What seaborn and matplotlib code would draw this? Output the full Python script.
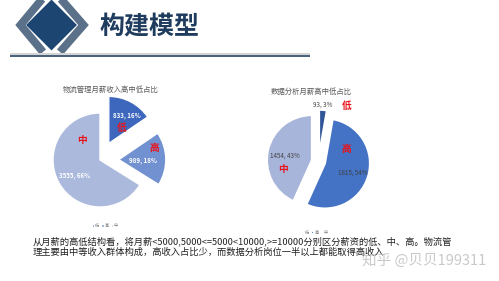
import matplotlib
matplotlib.use("Agg")
import matplotlib.pyplot as plt
import seaborn as sns
from matplotlib.patches import Polygon

# ---------------- data ----------------
categories = ['低', '高', '中']
title1 = '物流管理月薪收入高中低占比'
values1 = [833, 989, 3555]
pct1 = [16, 18, 66]
title2 = '数据分析月薪高中低占比'
values2 = [93, 1815, 1454]
pct2 = [3, 54, 43]
page_title = '构建模型'
para_lines = ['从月薪的高低结构看，将月薪<5000,5000<=5000<10000,>=10000分别区分薪资的低、中、高。物流管',
              '理主要由中等收入群体构成，高收入占比少，而数据分析岗位一半以上都能取得高收入']
watermark = '知乎 @贝贝199311'

# ---------------- style ----------------
sns.set_theme(style='white')
plt.rcParams['font.family'] = ['Noto Sans CJK SC', 'DejaVu Sans']

colors1 = ['#3d67bd', '#7191d1', '#abb9dd']
colors2 = ['#2f5597', '#4472c4', '#a7b5da']
explode1 = [0.4, 0.4, 0.0]
explode2 = [0.15, 0.15, 0.15]
# label offsets relative to each wedge apex, in radius units
num_off1 = [(0.39, 0.60), (0.52, -0.01), (-0.55, -0.34)]
red_off1 = [(0.28, 0.33), (0.75, 0.25), (-0.38, 0.43)]
num_off2 = [(0.09, 1.11), (0.62, -0.21), (-0.60, 0.09)]
red_off2 = [(0.62, 1.08), (0.47, 0.32), (-0.64, -0.20)]

W, H = 499, 281
fig = plt.figure(figsize=(W / 100, H / 100), dpi=100)
fig.patch.set_facecolor('white')

# overlay axes in pixel coordinates for slide decorations
ax0 = fig.add_axes([0, 0, 1, 1])
ax0.set_xlim(0, W)
ax0.set_ylim(H, 0)
ax0.axis('off')

PT = 0.72  # px -> pt at 100 dpi
# icon
ax0.plot([43, 20.5, 43], [-2, 25, 52], color='#5b7189', lw=8 * PT,
         solid_joinstyle='miter', solid_capstyle='butt')
ax0.plot([60, 83.5, 60], [-2, 25, 52], color='#5b7189', lw=8 * PT,
         solid_joinstyle='miter', solid_capstyle='butt')
ax0.add_patch(Polygon([(51.5, -1.5), (78, 25), (51.5, 51.5), (25, 25)], closed=True,
                      facecolor='#1d4571', edgecolor='white', lw=1.5 * PT))
ax0.text(100, 27, page_title, fontsize=18, fontweight='bold', color='#1f3c5e',
         ha='left', va='center')
# header rules
ax0.plot([10, 310], [53.8, 53.8], color='#d4d4d4', lw=2 * PT, solid_capstyle='butt')
ax0.plot([10, 310], [56.3, 56.3], color='#1f3c5e', lw=1.6 * PT, solid_capstyle='butt')

# paragraph
for i, line in enumerate(para_lines):
    ax0.text(33, 241 + i * 11, line, fontsize=6.7, color='#222222', ha='left', va='center')
ax0.text(362, 261, watermark, fontsize=10.5, color='#c4c4c4', ha='left', va='center',
         zorder=5, alpha=0.9)

# chart titles
ax0.text(110.5, 90, title1, fontsize=5.3, color='#595959', ha='center', va='center')
ax0.text(311.5, 92, title2, fontsize=5.3, color='#595959', ha='center', va='center')


def draw_pie(cx, cy, R, values, pcts, colors, explode, num_off, red_off, num_color,
             legend_xy, lw):
    lim = 2.0
    size = 2 * lim * R
    ax = fig.add_axes([(cx - size / 2) / W, (H - cy - size / 2) / H, size / W, size / H])
    wedges, _ = ax.pie(values, colors=colors, startangle=90, counterclock=False,
                       explode=explode, radius=1,
                       wedgeprops=dict(edgecolor='white', linewidth=lw))
    ax.set_xlim(-lim, lim)
    ax.set_ylim(-lim, lim)
    ax.set_aspect('equal')
    ax.axis('off')
    ax.patch.set_visible(False)
    for w, v, p, no, ro, cat in zip(wedges, values, pcts, num_off, red_off, categories):
        x0, y0 = w.center
        ax.text(x0 + no[0], y0 + no[1], f'{v}, {p}%', fontsize=4.5, color=num_color,
                ha='center', va='center', fontweight='bold' if num_color == 'white' else 'normal')
        ax.text(x0 + ro[0], y0 + ro[1], cat, fontsize=7, color='#e8141c',
                ha='center', va='center', fontweight='bold')
    fig.legend(wedges, categories, loc='center', ncol=3, fontsize=3, frameon=False,
               bbox_to_anchor=(legend_xy[0] / W, 1 - legend_xy[1] / H),
               bbox_transform=fig.transFigure, handlelength=0.5, handleheight=0.5,
               handletextpad=0.2, columnspacing=0.6, labelcolor='#777777')
    return ax


draw_pie(100, 160, 47, values1, pct1, colors1, explode1, num_off1, red_off1, 'white',
         (105, 226), 1.0)
draw_pie(318.5, 161.5, 45, values2, pct2, colors2, explode2, num_off2, red_off2, '#404040',
         (315, 233), 1.5)

fig.savefig('out.png', dpi=100, facecolor='white')
